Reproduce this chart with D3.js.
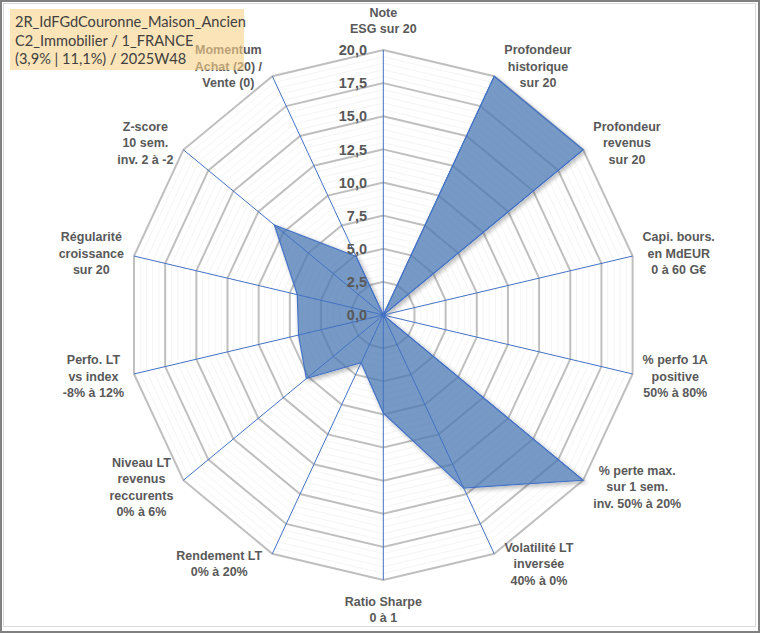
<!DOCTYPE html>
<html><head><meta charset="utf-8">
<script src="https://cdn.jsdelivr.net/npm/d3@7"></script>
<style>body{margin:0;background:#fff} svg{display:block}</style>
</head><body>
<svg id="c" width="760" height="633"></svg>
<script>
// ---- data ----
const categories = [
  "Note\nESG sur 20",
  "Profondeur\nhistorique\nsur 20",
  "Profondeur\nrevenus\nsur 20",
  "Capi. bours.\nen MdEUR\n0 à 60 G€",
  "% perfo 1A\npositive\n50% à 80%",
  "% perte max.\nsur 1 sem.\ninv. 50% à 20%",
  "Volatilité LT\ninversée\n40% à 0%",
  "Ratio Sharpe\n0 à 1",
  "Rendement LT\n0% à 20%",
  "Niveau LT\nrevenus\nreccurents\n0% à 6%",
  "Perfo. LT\nvs index\n-8% à 12%",
  "Régularité\ncroissance\nsur 20",
  "Z-score\n10 sem.\ninv. 2 à -2",
  "Momentum\nAchat (20) /\nVente (0)"
];
const values = [0, 20, 20, 0, 0, 20, 14.5, 7.4, 4.0, 7.7, 6.8, 6.9, 10.9, 4.9];
const tickValues = [0, 2.5, 5, 7.5, 10, 12.5, 15, 17.5, 20];
const tickLabels = ["0,0", "2,5", "5,0", "7,5", "10,0", "12,5", "15,0", "17,5", "20,0"];
const titleLines = ["2R_IdFGdCouronne_Maison_Ancien", "C2_Immobilier / 1_FRANCE", "(3,9% | 11,1%) / 2025W48"];

// ---- layout ----
const W = 760, H = 633;
const cx = 383.3, cy = 315;
const n = categories.length;
const svg = d3.select("#c");

svg.append("rect").attr("x", 0).attr("y", 0).attr("width", W).attr("height", H).attr("fill", "#fff");

const angle = d3.scaleLinear().domain([0, n]).range([0, 2 * Math.PI]);
const rY = d3.scaleLinear().domain([0, 20]).range([0, 265]);
const rX = d3.scaleLinear().domain([0, 20]).range([0, 255.7]);
const pt = (i, v) => [cx + rX(v) * Math.sin(angle(i)), cy - rY(v) * Math.cos(angle(i))];

const ringPath = v => d3.line()(d3.range(n).map(i => pt(i, v))) + "Z";

// outer-only shadow filter
const defs = svg.append("defs");
const f = defs.append("filter").attr("id", "sh").attr("x", "-10%").attr("y", "-10%").attr("width", "120%").attr("height", "120%");
f.append("feGaussianBlur").attr("in", "SourceAlpha").attr("stdDeviation", 2).attr("result", "b");
f.append("feOffset").attr("in", "b").attr("dx", 1.5).attr("dy", 1.5).attr("result", "o");
f.append("feComposite").attr("in", "o").attr("in2", "SourceAlpha").attr("operator", "out").attr("result", "oo");
f.append("feFlood").attr("flood-color", "#000").attr("flood-opacity", 0.35).attr("result", "fl");
f.append("feComposite").attr("in", "fl").attr("in2", "oo").attr("operator", "in").attr("result", "shadow");
const m = f.append("feMerge");
m.append("feMergeNode").attr("in", "shadow");
m.append("feMergeNode").attr("in", "SourceGraphic");

// minor grid
const minor = d3.range(0.5, 20.01, 0.5).filter(v => Math.abs(v / 2.5 - Math.round(v / 2.5)) > 1e-6);
svg.append("g").selectAll("path").data(minor).join("path")
  .attr("d", ringPath).attr("fill", "none").attr("stroke", "#f1f1f1").attr("stroke-width", 0.8);
// major grid
svg.append("g").selectAll("path").data(tickValues.filter(v => v > 0)).join("path")
  .attr("d", ringPath).attr("fill", "none").attr("stroke", "#bfbfbf").attr("stroke-width", 2);

// series area
svg.append("path")
  .attr("d", d3.line()(values.map((v, i) => pt(i, v))) + "Z")
  .attr("fill", "#4a78b5").attr("fill-opacity", 0.74)
  .attr("stroke", "#4472c4").attr("stroke-width", 1.2)
  .attr("stroke-linejoin", "miter")
  .attr("filter", "url(#sh)");

// spokes
svg.append("g").selectAll("line").data(d3.range(n)).join("line")
  .attr("x1", cx).attr("y1", cy)
  .attr("x2", i => pt(i, 20)[0]).attr("y2", i => pt(i, 20)[1])
  .attr("stroke", "#4472c4").attr("stroke-width", 1);
svg.append("circle").attr("cx", cx).attr("cy", cy).attr("r", 2.2).attr("fill", "#4472c4");

// tick labels
svg.append("g").selectAll("text").data(tickValues).join("text")
  .attr("x", 367).attr("y", v => cy - rY(v))
  .attr("dy", "0.36em").attr("text-anchor", "end")
  .attr("font-family", "Liberation Sans, Arial, sans-serif").attr("font-weight", "bold")
  .attr("font-size", 14.5).attr("fill", "#595959")
  .text((v, i) => tickLabels[i]);

// axis labels
const lineH = 16.5;
const lab = svg.append("g")
  .attr("font-family", "Liberation Sans, Arial, sans-serif").attr("font-weight", "bold")
  .attr("font-size", 12.5).attr("fill", "#595959");
categories.forEach((c, i) => {
  const lines = c.split("\n");
  const a = angle(i), s = Math.sin(a), co = Math.cos(a);
  const [vx, vy] = pt(i, 20);
  const t = lab.append("text").attr("text-anchor", "middle");
  lines.forEach((l, k) => t.append("tspan").attr("x", 0).attr("y", k * lineH).text(l));
  const bb = t.node().getBBox();
  const h = lines.length * lineH;
  let x, y;
  if (Math.abs(s) < 0.1) {
    x = vx;
    y = vy - co * (h / 2 + 13);
  } else {
    x = vx + Math.sign(s) * (bb.width / 2 + 10);
    y = vy - co * 11;
  }
  const y0 = y - (lines.length - 1) * lineH / 2;
  t.attr("transform", `translate(${x},${y0})`);
  t.selectAll("tspan").attr("dy", "0.35em");
});

// title box
svg.append("rect").attr("x", 10).attr("y", 9).attr("width", 234).attr("height", 61)
  .attr("fill", "#fad28a").attr("fill-opacity", 0.6);
svg.append("g").selectAll("text").data(titleLines).join("text")
  .attr("x", 15).attr("y", (d, i) => 27 + i * 18.5)
  .attr("font-family", "Lato, 'Open Sans', sans-serif").attr("font-size", 14.6)
  .attr("fill", "#404040").text(d => d);

// frame
svg.append("rect").attr("x", 3.5).attr("y", 3.5).attr("width", 752).attr("height", 623)
  .attr("fill", "none").attr("stroke", "#d9d9d9").attr("stroke-width", 1);
svg.append("rect").attr("x", 1).attr("y", 1).attr("width", W - 2).attr("height", H - 2)
  .attr("fill", "none").attr("stroke", "#808080").attr("stroke-width", 2);
</script>
</body></html>
